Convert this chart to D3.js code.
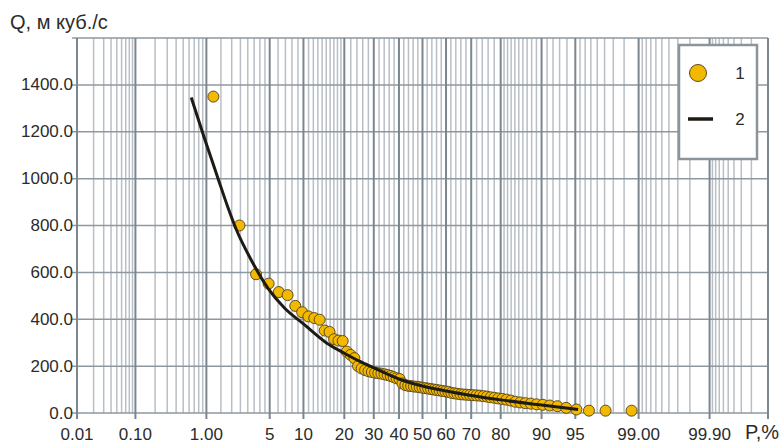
<!DOCTYPE html>
<html>
<head>
<meta charset="utf-8">
<script src="https://cdn.jsdelivr.net/npm/d3@7"></script>
<style>
	body { margin: 0; background: #fff; }
	svg text { font-family: "Liberation Sans", Arial, sans-serif; fill: #2b2b2b; }
</style>
</head>
<body>
<svg id="chart" width="782" height="444"></svg>
<script>
// exceedance probability, %, of each observed flow (sorted)
const pointP = [1.22, 2.44, 3.66, 4.88, 6.10, 7.32, 8.54, 9.76, 10.98, 12.20,
	13.41, 14.63, 15.85, 17.07, 18.29, 19.51, 20.73, 21.95, 23.17, 24.39,
	25.61, 26.83, 28.05, 29.27, 30.49, 31.71, 32.93, 34.15, 35.37, 36.59,
	37.80, 39.02, 40.24, 41.46, 42.68, 43.90, 45.12, 46.34, 47.56, 48.78,
	50.00, 51.22, 52.44, 53.66, 54.88, 56.10, 57.32, 58.54, 59.76, 60.98,
	62.20, 63.41, 64.63, 65.85, 67.07, 68.29, 69.51, 70.73, 71.95, 73.17,
	74.39, 75.61, 76.83, 78.05, 79.27, 80.49, 81.71, 82.93, 84.15, 85.37,
	86.59, 87.80, 89.02, 90.24, 91.46, 92.68, 93.90, 95.12, 96.34, 97.56, 98.78];
const pointQ = [1350, 800, 592, 552, 516, 503, 457, 430, 412, 405,
	398, 352, 346, 315, 309, 307, 262, 248, 234, 200,
	190, 183, 178, 175, 172, 170, 168, 165, 162, 158,
	153, 148, 145, 126, 119, 116, 115, 113, 112, 110,
	108, 106, 104, 102, 100, 98, 96, 94, 92, 90,
	86, 84, 82, 80, 79, 78, 77, 76, 75, 74,
	72, 70, 67, 65, 62, 60, 57, 53, 48, 45,
	42, 40, 37, 35, 32, 29, 22, 15, 10, 10, 10];

// fitted distribution curve (2)
const curveP = [0.64, 0.95, 1.38, 1.8, 2.24, 3.26, 4.8, 6.87, 10, 15, 20, 25, 30, 40, 50, 60, 70, 80, 90, 95.3];
const curveQ = [1346, 1170, 1003, 880, 785, 653, 533, 448, 380, 300, 255, 220, 193, 145, 115, 94, 75, 56, 34, 15];

const majorP = [0.01, 0.1, 1, 5, 10, 20, 30, 40, 50, 60, 70, 80, 90, 95, 99, 99.9, 99.99];
const minorP = [0.02, 0.03, 0.04, 0.05, 0.06, 0.07, 0.08, 0.09,
	0.2, 0.3, 0.4, 0.5, 0.6, 0.7, 0.8, 0.9,
	1.5, 2, 2.5, 3, 3.5, 4, 4.5, 6, 7, 8, 9,
	11, 12, 13, 14, 15, 16, 17, 18, 19, 22, 24, 26, 28,
	32, 34, 36, 38, 42, 44, 46, 48, 52, 54, 56, 58, 62, 64, 66, 68, 72, 74, 76, 78,
	81, 82, 83, 84, 85, 86, 87, 88, 89, 91, 92, 93, 94,
	95.5, 96, 96.5, 97, 97.5, 98, 98.5,
	99.1, 99.2, 99.3, 99.4, 99.5, 99.6, 99.7, 99.8,
	99.91, 99.92, 99.93, 99.94, 99.95, 99.96, 99.97, 99.98];
const xLabels = ['0.01', '0.10', '1.00', '5', '10', '20', '30', '40', '50', '60', '70', '80', '90', '95', '99.00', '99.90'];
const yTicks = [0, 200, 400, 600, 800, 1000, 1200, 1400, 1600];
const legendItems = ['1', '2'];

// inverse normal CDF (Acklam)
function probit(p) {
	const a = [-3.969683028665376e+01, 2.209460984245205e+02, -2.759285104469687e+02, 1.383577518672690e+02, -3.066479806614716e+01, 2.506628277459239e+00];
	const b = [-5.447609879822406e+01, 1.615858368580409e+02, -1.556989798598866e+02, 6.680131188771972e+01, -1.328068155288572e+01];
	const c = [-7.784894002430293e-03, -3.223964580411365e-01, -2.400758277161838e+00, -2.549732539343734e+00, 4.374664141464968e+00, 2.938163982698783e+00];
	const d = [7.784695709041462e-03, 3.224671290700398e-01, 2.445134137142996e+00, 3.754408661907416e+00];
	const pl = 0.02425;
	let q, r;
	if (p < pl) {
		q = Math.sqrt(-2 * Math.log(p));
		return (((((c[0]*q+c[1])*q+c[2])*q+c[3])*q+c[4])*q+c[5]) / ((((d[0]*q+d[1])*q+d[2])*q+d[3])*q+1);
	}
	if (p > 1 - pl) {
		q = Math.sqrt(-2 * Math.log(1 - p));
		return -(((((c[0]*q+c[1])*q+c[2])*q+c[3])*q+c[4])*q+c[5]) / ((((d[0]*q+d[1])*q+d[2])*q+d[3])*q+1);
	}
	q = p - 0.5;
	r = q * q;
	return (((((a[0]*r+a[1])*r+a[2])*r+a[3])*r+a[4])*r+a[5])*q / (((((b[0]*r+b[1])*r+b[2])*r+b[3])*r+b[4])*r+1);
}

const plotLeft = 77, plotRight = 768, plotTop = 38, plotBottom = 413;
const svg = d3.select('#chart');

const zScale = d3.scaleLinear().domain([probit(0.0001), probit(0.9999)]).range([plotLeft, plotRight]);
const x = p => zScale(probit(p / 100));
const y = d3.scaleLinear().domain([0, 1600]).range([plotBottom, plotTop]);

const grid = svg.append('g');
// minor verticals
grid.selectAll('.minor').data(minorP).enter().append('line')
	.attr('x1', d => x(d)).attr('x2', d => x(d))
	.attr('y1', plotTop).attr('y2', plotBottom)
	.attr('stroke', '#b9bfc5').attr('stroke-width', 1.5);
// horizontals
grid.selectAll('.hline').data(yTicks).enter().append('line')
	.attr('x1', plotLeft - 5).attr('x2', plotRight)
	.attr('y1', d => y(d)).attr('y2', d => y(d))
	.attr('stroke', '#8f989f').attr('stroke-width', 1.5);
// major verticals with ticks below
grid.selectAll('.major').data(majorP).enter().append('line')
	.attr('x1', d => x(d)).attr('x2', d => x(d))
	.attr('y1', plotTop).attr('y2', plotBottom + 6)
	.attr('stroke', '#7b868f').attr('stroke-width', 2);

// y labels
svg.append('g').selectAll('text').data(yTicks.slice(0, -1)).enter().append('text')
	.attr('x', 73).attr('y', d => y(d))
	.attr('text-anchor', 'end').attr('dominant-baseline', 'central')
	.attr('font-size', 17)
	.text(d => d.toFixed(1));

// x labels
svg.append('g').selectAll('text').data(xLabels).enter().append('text')
	.attr('x', (d, i) => x(majorP[i])).attr('y', 440)
	.attr('text-anchor', 'middle')
	.attr('font-size', 17)
	.text(d => d);

svg.append('text').attr('x', 10).attr('y', 29).attr('font-size', 20).text('Q, м куб./с');
svg.append('text').attr('x', 745).attr('y', 439).attr('font-size', 20).text('P,%');

const lineGen = d3.line().x(d => x(d[0])).y(d => y(d[1])).curve(d3.curveMonotoneX);

// observed points
svg.append('g').selectAll('circle').data(pointP).enter().append('circle')
	.attr('cx', d => x(d)).attr('cy', (d, i) => y(pointQ[i]))
	.attr('r', 5.5)
	.attr('fill', '#f3b800').attr('stroke', '#5e4d1c').attr('stroke-width', 1);

// fitted curve, drawn over the points
svg.append('path')
	.datum(curveP.map((p, i) => [p, curveQ[i]]))
	.attr('d', lineGen)
	.attr('fill', 'none').attr('stroke', '#1e1a16').attr('stroke-width', 3);

// legend
const lg = svg.append('g');
lg.append('rect').attr('x', 679).attr('y', 45).attr('width', 78).attr('height', 114)
	.attr('fill', '#fff').attr('stroke', '#8b949a').attr('stroke-width', 2.5);
lg.append('circle').attr('cx', 698).attr('cy', 73).attr('r', 8.5)
	.attr('fill', '#f3b800').attr('stroke', '#5e4d1c').attr('stroke-width', 1);
lg.append('line').attr('x1', 688).attr('x2', 713).attr('y1', 119).attr('y2', 119)
	.attr('stroke', '#1e1a16').attr('stroke-width', 3.5);
lg.selectAll('text').data(legendItems).enter().append('text')
	.attr('x', 740).attr('y', (d, i) => i === 0 ? 73 : 119)
	.attr('text-anchor', 'middle').attr('dominant-baseline', 'central')
	.attr('font-size', 17)
	.text(d => d);
</script>
</body>
</html>
